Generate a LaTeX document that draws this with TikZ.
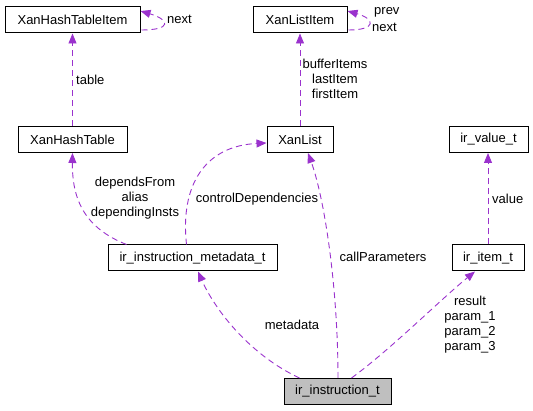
\documentclass[tikz,border=0pt]{standalone}
\usepackage{fontspec}
\setmainfont{Liberation Sans}
\usetikzlibrary{arrows.meta,calc}
\definecolor{edgec}{HTML}{9A32CD}
\definecolor{boxfill}{HTML}{BFBFBF}
\begin{document}
\begin{tikzpicture}[x=1pt,y=-1pt,
  every node/.style={font=\fontsize{13}{15}\selectfont},
  cls/.style={draw=black, line width=1pt, inner sep=0pt, minimum height=26pt, fill=white},
  rel/.style={draw=edgec, line width=0.9pt, dash pattern=on 6pt off 4pt, -{Triangle[length=10pt,width=8pt]}},
  lbl/.style={inner sep=0pt, align=center}
]
\useasboundingbox (0,0) rectangle (533,411);

% classes
\node[cls, minimum width=135pt] (hti) at (72.5,20) {XanHashTableItem};
\node[cls, minimum width=94pt]  (xli) at (300,20) {XanListItem};
\node[cls, minimum width=109pt] (ht)  at (72.5,139.5) {XanHashTable};
\node[cls, minimum width=66pt]  (xl)  at (300,139.5) {XanList};
\node[cls, minimum width=79pt]  (iv)  at (488.5,139.5) {ir\_value\_t};
\node[cls, minimum width=169pt] (md)  at (192.5,258) {ir\_instruction\_metadata\_t};
\node[cls, minimum width=72pt]  (item) at (488,258) {ir\_item\_t};
\node[cls, minimum width=107pt, fill=boxfill] (it) at (337.5,391.5) {ir\_instruction\_t};

% self loops
\draw[rel] ($(hti.east)+(1,10)$) .. controls +(30,0) and +(30,9) .. ($(hti.east)+(0,-9)$);
\node[lbl, anchor=west] (lnext1) at (167,19) {next};
\draw[rel] ($(xli.east)+(1,10)$) .. controls +(28,0) and +(28,8) .. ($(xli.east)+(0,-9)$);
\node[lbl, anchor=west] (lprev) at (374,12) {prev};
\node[lbl, anchor=west] (lnext2) at (372,27) {next};

% table
\draw[rel] (ht.north) -- (hti.south);
\node[lbl, anchor=west] (ltable) at (76,80) {table};

% XanList -> XanListItem
\draw[rel] (xl.north) -- (xli.south);
\node[lbl] (litems) at (335,79) {bufferItems\\lastItem\\firstItem};

% metadata -> XanHashTable
\draw[rel] ($(md.north west)+(19,0)$) .. controls (85,228) and (72,200) .. (ht.south);
\node[lbl] (ldeps) at (135,198) {dependsFrom\\alias\\dependingInsts};

% metadata -> XanList
\draw[rel] ($(md.north west)+(79,0)$) .. controls (180,185) and (205,146) .. ($(xl.west)+(0,3.5)$);
\node[lbl] (lctrl) at (257,199) {controlDependencies};

% instruction -> XanList
\draw[rel] ($(it.north)+(0.5,0)$) .. controls (338,290) and (325,200) .. ($(xl.south)+(8,0)$);
\node[lbl] (lcall) at (383,257) {callParameters};

% instruction -> metadata
\draw[rel] ($(it.north west)+(16,0)$) .. controls (250,355) and (215,310) .. ($(md.south)+(5.5,0)$);
\node[lbl] (lmeta) at (292,325) {metadata};

% instruction -> item
\draw[rel] ($(it.north)+(14,0)$) .. controls (390,350) and (440,300) .. ($(item.south)+(-13,0)$);
\node[lbl] (lparams) at (470,324.5) {result\\param\_1\\param\_2\\param\_3};

% item -> value
\draw[rel] (item.north) -- (item.north |- iv.south);
\node[lbl, anchor=west] (lvalue) at (492,199) {value};
\end{tikzpicture}
\end{document}
